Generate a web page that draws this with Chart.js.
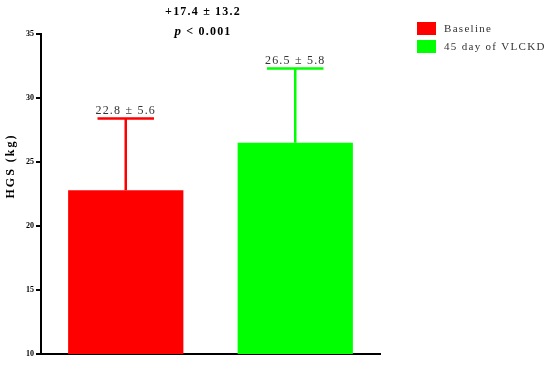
<!DOCTYPE html>
<html>
<head>
<meta charset="utf-8">
<script src="https://cdn.jsdelivr.net/npm/chart.js@4"></script>
<style>
  html, body { margin: 0; padding: 0; background: #fff; }
  #wrap { width: 550px; height: 368px; }
</style>
</head>
<body>
<div id="wrap"><canvas id="myChart" width="550" height="368"></canvas></div>
<script>
// 데이터
const groups = ['Baseline', '45 day of VLCKD'];
const means = [22.8, 26.5];
const sds = [5.6, 5.8];
const barColors = ['#ff0000', '#00ff00'];
const yTicks = [10, 15, 20, 25, 30, 35];
const diffText = '+17.4 ± 13.2';
const pText = '0.001';
const yTitle = 'HGS (kg)';

const serif = '"Liberation Serif", "DejaVu Serif", serif';

// 오차 막대 + 라벨
const errorBarPlugin = {
    id: 'errorBars',
    afterDatasetsDraw(chart) {
        const ctx = chart.ctx;
        const y = chart.scales.y;
        const meta = chart.getDatasetMeta(0);
        ctx.save();
        meta.data.forEach((bar, i) => {
            const top = y.getPixelForValue(means[i] + sds[i]);
            const capHalf = bar.width * 0.245;
            ctx.strokeStyle = barColors[i];
            ctx.lineWidth = 2.5;
            ctx.beginPath();
            ctx.moveTo(bar.x, bar.y);
            ctx.lineTo(bar.x, top);
            ctx.moveTo(bar.x - capHalf, top);
            ctx.lineTo(bar.x + capHalf, top);
            ctx.stroke();

            ctx.fillStyle = '#333';
            ctx.font = '12px ' + serif;
            ctx.letterSpacing = '1.2px';
            ctx.textAlign = 'center';
            ctx.textBaseline = 'bottom';
            ctx.fillText(means[i].toFixed(1) + ' ± ' + sds[i].toFixed(1), bar.x, top - 2);
        });
        ctx.restore();
    }
};

// 상단 통계 텍스트, 범례, 축 제목
const annotationPlugin = {
    id: 'annotations',
    afterDraw(chart) {
        const ctx = chart.ctx;
        ctx.save();
        ctx.fillStyle = '#000';
        ctx.textBaseline = 'middle';
        ctx.letterSpacing = '1.2px';

        ctx.font = 'bold 12px ' + serif;
        ctx.textAlign = 'center';
        ctx.fillText(diffText, 203, 12);

        ctx.textAlign = 'left';
        const rest = ' < ' + pText;
        ctx.font = 'bold 12px ' + serif;
        const restW = ctx.measureText(rest).width;
        ctx.font = 'bold italic 13px ' + serif;
        const pW = ctx.measureText('p').width;
        const startX = 203 - (pW + restW) / 2;
        ctx.fillText('p', startX, 32);
        ctx.font = 'bold 12px ' + serif;
        ctx.fillText(rest, startX + pW, 32);

        // 범례
        ctx.font = '11px ' + serif;
        ctx.letterSpacing = '1.3px';
        groups.forEach((g, i) => {
            const yy = 22 + i * 18;
            ctx.fillStyle = barColors[i];
            ctx.fillRect(417, yy, 19, 13);
            ctx.fillStyle = '#333';
            ctx.fillText(g, 444, yy + 7);
        });

        // y축 제목
        ctx.translate(11, 166);
        ctx.rotate(-Math.PI / 2);
        ctx.font = 'bold 12px ' + serif;
        ctx.letterSpacing = '2px';
        ctx.textAlign = 'center';
        ctx.fillStyle = '#000';
        ctx.fillText(yTitle, 0, 0);
        ctx.restore();
    }
};

const ctx = document.getElementById('myChart').getContext('2d');
const myChart = new Chart(ctx, {
    type: 'bar',
    data: {
        labels: groups,
        datasets: [{
            data: means,
            backgroundColor: barColors,
            borderWidth: 0,
            barPercentage: 0.68,
            categoryPercentage: 1
        }]
    },
    options: {
        responsive: false,
        animation: false,
        layout: { padding: { top: 34, right: 170, bottom: 0, left: 0 } },
        plugins: {
            legend: { display: false },
            tooltip: { enabled: false }
        },
        scales: {
            x: {
                ticks: { display: false },
                grid: { drawOnChartArea: false, drawTicks: false },
                border: { color: '#000', width: 2 },
                afterFit(scale) { scale.height = 14; }
            },
            y: {
                min: 10,
                max: 35,
                afterBuildTicks(scale) { scale.ticks = yTicks.map(v => ({ value: v })); },
                ticks: {
                    color: '#000',
                    font: { family: serif, size: 8, weight: 'bold' },
                    padding: 2
                },
                grid: { drawOnChartArea: false, drawTicks: true, tickLength: 5, color: '#000', lineWidth: 2 },
                border: { color: '#000', width: 2 },
                afterFit(scale) { scale.width = 41; }
            }
        }
    },
    plugins: [errorBarPlugin, annotationPlugin]
});
</script>
</body>
</html>
